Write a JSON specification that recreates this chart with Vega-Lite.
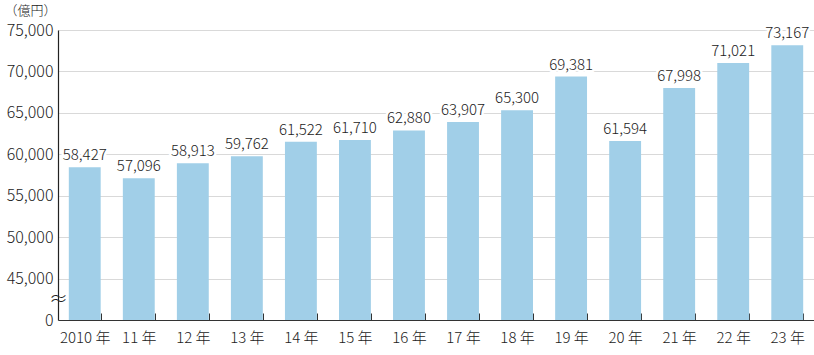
{
  "$schema": "https://vega.github.io/schema/vega-lite/v6.json",
  "width": 756,
  "height": 290,
  "autosize": {"type": "none"},
  "padding": {"left": 58, "top": 30, "right": 0, "bottom": 35},
  "background": "white",
  "config": {
    "view": {"stroke": null},
    "font": "Noto Sans CJK JP",
    "text": {"font": "Noto Sans CJK JP"}
  },
  "data": {
    "values": [
      {"year": "2010 年", "value": 58427},
      {"year": "11 年", "value": 57096},
      {"year": "12 年", "value": 58913},
      {"year": "13 年", "value": 59762},
      {"year": "14 年", "value": 61522},
      {"year": "15 年", "value": 61710},
      {"year": "16 年", "value": 62880},
      {"year": "17 年", "value": 63907},
      {"year": "18 年", "value": 65300},
      {"year": "19 年", "value": 69381},
      {"year": "20 年", "value": 61594},
      {"year": "21 年", "value": 67998},
      {"year": "22 年", "value": 71021},
      {"year": "23 年", "value": 73167}
    ]
  },
  "encoding": {
    "x": {
      "field": "year",
      "type": "nominal",
      "sort": null,
      "scale": {"paddingInner": 0.41, "paddingOuter": 0.2},
      "axis": {
        "title": null,
        "labelAngle": 0,
        "labelFontSize": 15,
        "labelFontWeight": 300,
        "labelColor": "#222",
        "labelPadding": 17,
        "labelFont": "Noto Sans CJK JP",
        "domainColor": "#333",
        "domainWidth": 1.2,
        "tickBand": "extent",
        "tickSize": -7,
        "tickColor": "#333",
        "grid": false
      }
    },
    "y": {
      "field": "value",
      "type": "quantitative",
      "scale": {"domain": [40000, 75000], "zero": false, "nice": false},
      "axis": {
        "values": [40000, 42500, 45000, 50000, 55000, 60000, 65000, 70000, 75000],
        "labelOverlap": false,
        "labelExpr": "datum.value == 40000 ? '0' : datum.value == 42500 ? '≈' : format(datum.value, ',')",
        "labelFontSize": {"condition": {"test": "datum.value == 42500", "value": 19}, "value": 16},
        "labelFontWeight": 300,
        "labelAlign": {"condition": {"test": "datum.value == 42500", "value": "center"}, "value": "right"},
        "labelPadding": {"condition": {"test": "datum.value == 42500", "value": 0}, "value": 5},
        "labelColor": "#222",
        "labelFont": "Noto Sans CJK JP",
        "ticks": false,
        "domainColor": "#222",
        "domainWidth": 1.2,
        "grid": true,
        "gridColor": "#d9d9d9",
        "gridWidth": 1,
        "gridOpacity": {"condition": {"test": "datum.value == 42500 || datum.value == 40000", "value": 0}, "value": 1},
        "title": "（億円）",
        "titleAngle": 0,
        "titleAlign": "left",
        "titleBaseline": "middle",
        "titleX": -54,
        "titleY": -20,
        "titleFontSize": 13,
        "titleFontWeight": 300,
        "titleColor": "#222",
        "titleFont": "Noto Sans CJK JP"
      }
    }
  },
  "layer": [
    {
      "mark": {"type": "bar", "color": "#a1cfe8"},
      "encoding": {
        "y2": {"datum": 40000}
      }
    },
    {
      "mark": {"type": "text", "baseline": "bottom", "dy": -4, "fontSize": 15, "fontWeight": 300, "stroke": "white", "strokeWidth": 5, "strokeJoin": "round", "color": "white"},
      "encoding": {
        "text": {"field": "value", "type": "quantitative", "format": ","}
      }
    },
    {
      "mark": {"type": "text", "baseline": "bottom", "dy": -4, "fontSize": 15, "fontWeight": 300, "color": "#222"},
      "encoding": {
        "text": {"field": "value", "type": "quantitative", "format": ","}
      }
    }
  ]
}
